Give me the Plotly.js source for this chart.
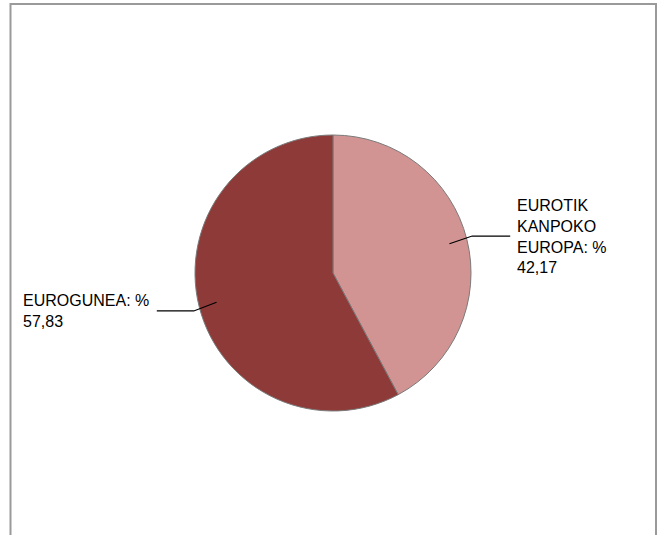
<!DOCTYPE html>
<html>
<head>
<meta charset="utf-8">
<script src="https://cdn.plot.ly/plotly-3.0.1.min.js"></script>
<style>html,body{margin:0;padding:0;background:#fff;}#chart{width:663px;height:535px;}</style>
</head>
<body>
<div id="chart"></div>
<script>
const labels = ["EUROTIK KANPOKO EUROPA", "EUROGUNEA"];
const labelLines = [["EUROTIK", "KANPOKO", "EUROPA: %"], ["EUROGUNEA: %"]];
const values = [42.17, 57.83];
const colors = ["#D19493", "#8E3A38"];

const W = 663, H = 535;
const cx = 333, cy = 273, R = 138;
const px = x => x / W;
const py = y => 1 - y / H;

const total = values.reduce((a, b) => a + b, 0);
let cum = 0;
const shapes = [{
  type: "rect", xref: "paper", yref: "paper",
  x0: px(10.5), x1: px(656), y0: py(560), y1: py(4),
  line: {color: "#9a9a9a", width: 2}, fillcolor: "rgba(0,0,0,0)"
}];
const annotations = [];
const font = {family: "Liberation Sans, Arial, sans-serif", size: 16, color: "#000"};
values.forEach((v, i) => {
  const mid = (cum + v / 2) / total * 2 * Math.PI;
  cum += v;
  const s = Math.sin(mid), c = Math.cos(mid);
  const x1 = cx + 0.87 * R * s, y1 = cy - 0.87 * R * c;
  const x2 = cx + 1.04 * R * s, y2 = cy - 1.04 * R * c + (s > 0 ? -2 : 3);
  const x3 = x2 + (s > 0 ? 38 : -37);
  shapes.push({type: "path", xref: "paper", yref: "paper",
    path: `M ${px(x1)} ${py(y1)} L ${px(x2)} ${py(y2)} L ${px(x3)} ${py(y2)}`,
    line: {color: "#000", width: 1.2}});
  const txt = labelLines[i].join("<br>") + "<br>" + v.toFixed(2).replace(".", ",");
  annotations.push({xref: "paper", yref: "paper", x: s > 0 ? px(x3 + 5) : px(21), y: py(y2),
    xanchor: "left", yanchor: "middle", align: "left", showarrow: false,
    text: txt, font: font});
});

const trace = {
  type: "pie", labels: labels, values: values, sort: false,
  direction: "clockwise", rotation: 0, textinfo: "none", hoverinfo: "none",
  marker: {colors: colors, line: {color: "#7a7a7a", width: 1}},
  domain: {x: [px(cx - R), px(cx + R)], y: [py(cy + R), py(cy - R)]},
  showlegend: false
};

Plotly.newPlot("chart", [trace], {
  width: W, height: H, margin: {l: 0, r: 0, t: 0, b: 0},
  paper_bgcolor: "#fff", shapes: shapes, annotations: annotations, showlegend: false
}, {staticPlot: true});
</script>
</body>
</html>
